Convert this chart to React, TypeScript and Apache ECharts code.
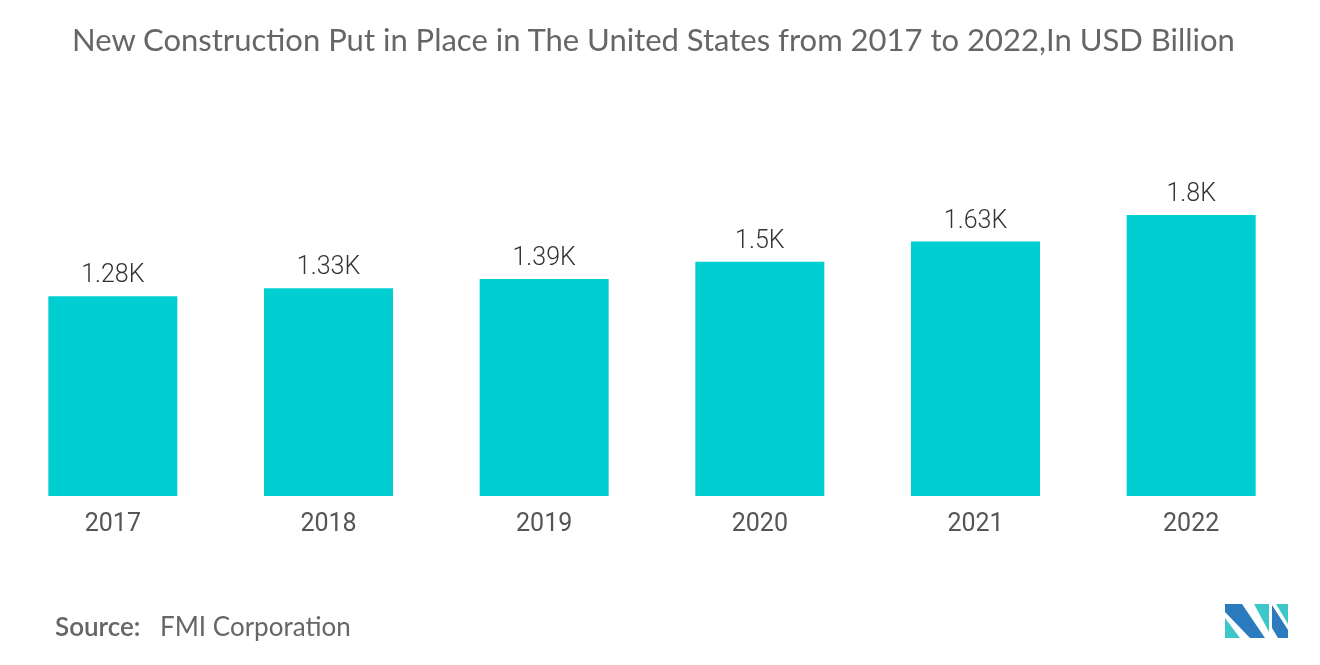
import React, { useEffect, useRef } from "react";
import * as echarts from "echarts";

const categories = ["2017", "2018", "2019", "2020", "2021", "2022"];
const values = [1280, 1330, 1390, 1500, 1630, 1800];
const labels = ["1.28K", "1.33K", "1.39K", "1.5K", "1.63K", "1.8K"];

export default function App() {
  const ref = useRef<HTMLDivElement>(null);
  useEffect(() => {
    const chart = echarts.init(ref.current!, null, { renderer: "svg" });
    const teal = "#3CC8C8";
    const blue = "#2B7BBE";
    chart.setOption({
      animation: false,
      title: {
        text: "New Construction Put in Place in The United States from 2017 to 2022,In USD Billion",
        left: 67,
        top: 18,
        textStyle: { fontFamily: "Lato", fontSize: 31, fontWeight: "normal", color: "#666666" },
      },
      grid: { left: 5, right: 21, top: 215, bottom: 169, containLabel: false },
      xAxis: {
        type: "category",
        data: categories,
        axisLine: { show: false },
        axisTick: { show: false },
        axisLabel: { fontFamily: "Roboto", fontSize: 25, color: "#555555", margin: 14 },
      },
      yAxis: { type: "value", min: 0, max: 1800, show: false, splitLine: { show: false } },
      series: [
        {
          type: "bar",
          data: values,
          barWidth: 129,
          itemStyle: { color: "#00CED1" },
          label: {
            show: true,
            position: "top",
            distance: 10,
            fontFamily: "Roboto",
            fontSize: 25,
            fontWeight: 300,
            color: "#333333",
            formatter: (p: any) => labels[p.dataIndex],
          },
        },
      ],
      graphic: [
        {
          type: "text",
          left: 55,
          top: 613,
          style: { text: "Source:", fontFamily: "Lato", fontSize: 26, fontWeight: 600, fill: "#666666" },
        },
        {
          type: "text",
          left: 160,
          top: 613,
          style: { text: "FMI Corporation", fontFamily: "Lato", fontSize: 26, fill: "#666666" },
        },
        { type: "polygon", shape: { points: [[1225, 618], [1225, 638], [1240, 638]] }, style: { fill: teal } },
        { type: "polygon", shape: { points: [[1225, 604], [1242, 604], [1265, 638], [1250, 638], [1225, 612]] }, style: { fill: blue } },
        { type: "polygon", shape: { points: [[1254, 604], [1269, 604], [1269, 632]] }, style: { fill: teal } },
        { type: "polygon", shape: { points: [[1272, 605], [1288, 630], [1288, 638], [1278, 638], [1272, 628]] }, style: { fill: blue } },
        { type: "polygon", shape: { points: [[1276, 604], [1288, 604], [1288, 624]] }, style: { fill: teal } },
      ],
    });
    return () => chart.dispose();
  }, []);
  return <div ref={ref} style={{ position: "fixed", left: 0, top: 0, width: 1320, height: 665 }} />;
}
